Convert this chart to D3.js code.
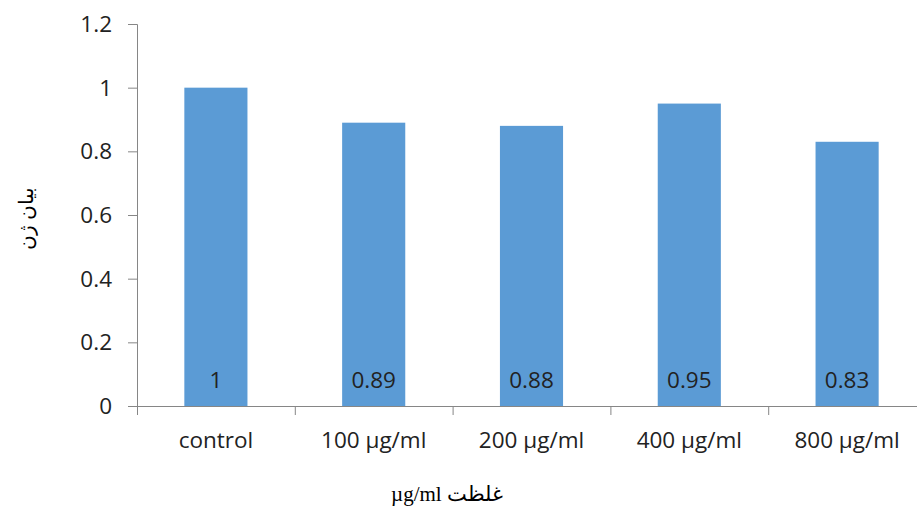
<!DOCTYPE html>
<html><head><meta charset="utf-8">
<script src="https://cdn.jsdelivr.net/npm/d3@7"></script>
<style>body{margin:0;background:#fff}</style>
</head><body>
<svg id="c" width="917" height="509"></svg>
<script>
const categories = ["control", "100 µg/ml", "200 µg/ml", "400 µg/ml", "800 µg/ml"];
const values = [1, 0.89, 0.88, 0.95, 0.83];
const valueLabels = ["1", "0.89", "0.88", "0.95", "0.83"];
const yTicks = [0, 0.2, 0.4, 0.6, 0.8, 1, 1.2];
const xTitle = "غلظت µg/ml";
const yTitle = "بیان ژن";

const svg = d3.select("#c");
const axisColor = "#868686";
const sans = "'Open Sans', 'Noto Sans', sans-serif";
const fs = 22.5;
const x = d3.scaleBand().domain(categories).range([137, 926]).paddingInner(0.6).paddingOuter(0.3);
const y = d3.scaleLinear().domain([0, 1.2]).range([406, 24]);

// y axis
const gy = svg.append("g").attr("transform", "translate(137,0)")
  .call(d3.axisLeft(y).tickValues(yTicks).tickSize(9).tickPadding(16).tickFormat(d => String(+d.toFixed(1))));
gy.select(".domain").attr("stroke", axisColor).attr("d", "M-9,24.5H0.5V406");
gy.selectAll(".tick line").attr("stroke", axisColor);
gy.selectAll(".tick text").attr("font-family", sans).attr("font-size", fs).attr("fill", "#222").attr("dy", "0.34em");

// bars
svg.append("g").selectAll("rect").data(values).join("rect")
  .attr("x", (d, i) => x(categories[i]))
  .attr("width", x.bandwidth())
  .attr("y", d => y(d))
  .attr("height", d => y(0) - y(d))
  .attr("fill", "#5B9BD5");

// x axis
const step = x.step();
const gx = svg.append("g").attr("transform", "translate(0,406)");
gx.append("line").attr("x1", 137).attr("x2", 917).attr("y1", 0.5).attr("y2", 0.5).attr("stroke", axisColor);
gx.selectAll("line.t").data(d3.range(categories.length + 1)).join("line").attr("class", "t")
  .attr("x1", i => 137.5 + i * step).attr("x2", i => 137.5 + i * step)
  .attr("y1", 0).attr("y2", 9).attr("stroke", axisColor);
gx.selectAll("text").data(categories).join("text")
  .attr("x", d => x(d) + x.bandwidth() / 2).attr("y", 42)
  .attr("text-anchor", "middle").attr("font-family", sans).attr("font-size", fs).attr("fill", "#222")
  .text(d => d);

// data labels
svg.append("g").selectAll("text").data(values).join("text")
  .attr("x", (d, i) => x(categories[i]) + x.bandwidth() / 2)
  .attr("y", 388)
  .attr("text-anchor", "middle").attr("font-family", sans).attr("font-size", fs).attr("fill", "#222")
  .text((d, i) => valueLabels[i]);

// titles
svg.append("text").attr("x", 447).attr("y", 501).attr("text-anchor", "middle")
  .attr("direction", "rtl").attr("font-family", "'Liberation Serif', 'DejaVu Serif', serif").attr("font-size", 21)
  .text(xTitle);
svg.append("text").attr("transform", "translate(33,218) rotate(-90)").attr("text-anchor", "middle")
  .attr("direction", "rtl").attr("font-family", "'Liberation Serif', 'DejaVu Serif', serif").attr("font-size", 20)
  .text(yTitle);
</script>
</body></html>
